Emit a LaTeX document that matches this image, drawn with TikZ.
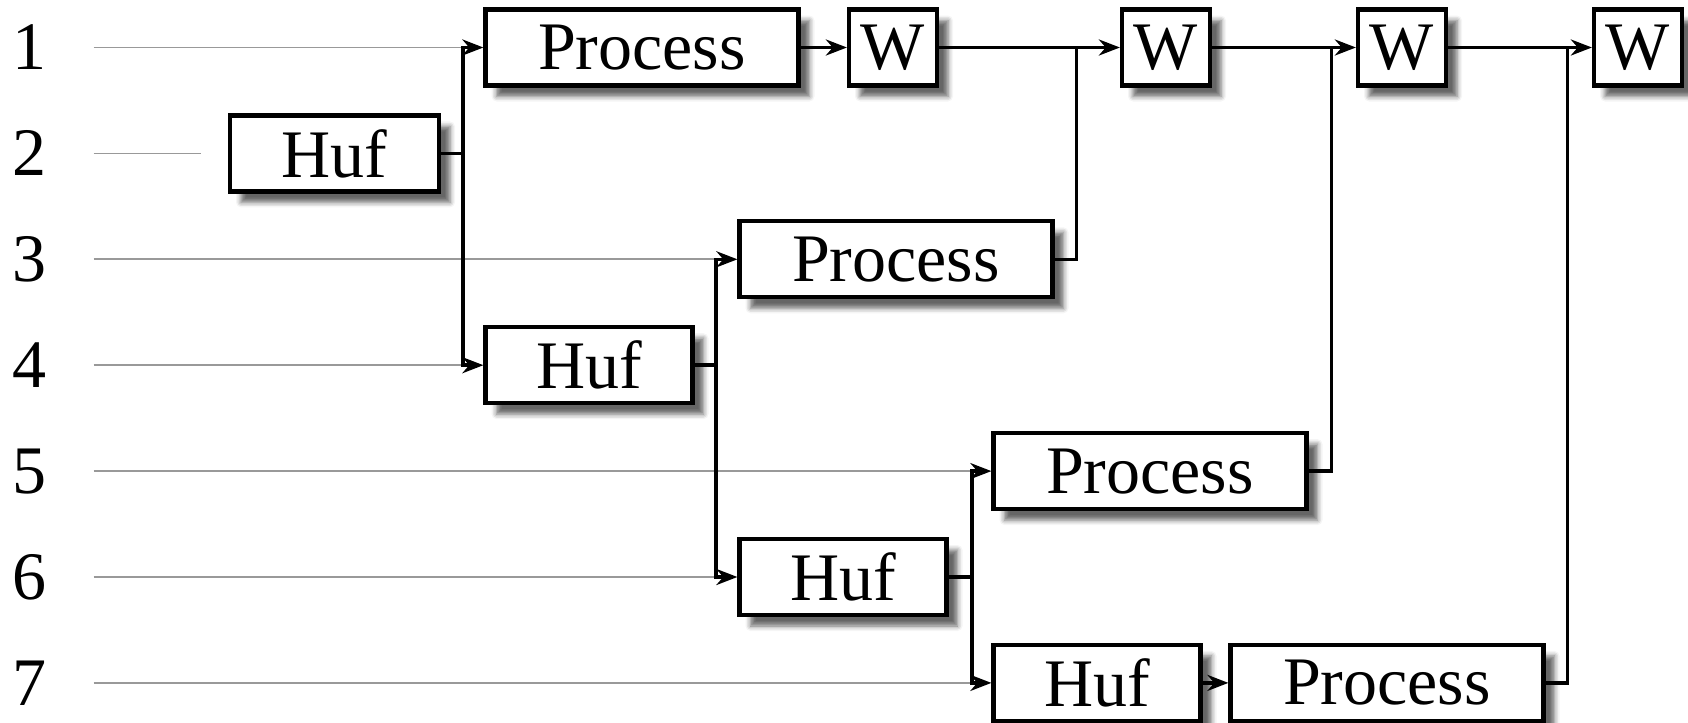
\documentclass[tikz,border=0pt]{standalone}
\usepackage{fontspec}
\setmainfont{Liberation Serif}
\usetikzlibrary{arrows.meta,shadows.blur}
\begin{document}
\begin{tikzpicture}[x=0.5pt,y=-0.5pt,
  box/.style={draw=black,line width=2.1pt,fill=white,minimum height=38pt,inner sep=0pt,
    font=\fontsize{34}{40}\selectfont,
    blur shadow={shadow xshift=5.5pt,shadow yshift=-5.5pt,shadow blur radius=2.5pt,shadow opacity=60}},
  conn/.style={line width=1.8pt},
  arr/.style={conn,-{Stealth[length=10.5pt,width=8pt]}},
  feed/.style={draw=gray!80,line width=0.9pt},
  lbl/.style={font=\fontsize{34}{40}\selectfont}]
\useasboundingbox (0,0) rectangle (1688,723);

% bus coordinates
\coordinate (bus1) at (463,0);
\coordinate (bus2) at (716,0);
\coordinate (bus3) at (972,0);
\coordinate (j1) at (1076.5,0);
\coordinate (j2) at (1331.6,0);
\coordinate (j3) at (1567.4,0);

% row labels
\node[lbl] (n1) at (29,47.5) {1};
\node[lbl] (n2) at (29,153.4) {2};
\node[lbl] (n3) at (29,259.3) {3};
\node[lbl] (n4) at (29,365.2) {4};
\node[lbl] (n5) at (29,471.1) {5};
\node[lbl] (n6) at (29,577) {6};
\node[lbl] (n7) at (29,682.9) {7};

% feed line starts
\coordinate (s1) at (93.7,47.5);
\coordinate (s2) at (93.7,153.4);
\coordinate (e2) at (201,153.4);
\coordinate (s3) at (93.7,259.3);
\coordinate (s4) at (93.7,365.2);
\coordinate (s5) at (93.7,471.1);
\coordinate (s6) at (93.7,577);
\coordinate (s7) at (93.7,682.9);

\draw[feed] (s1) -- (s1 -| bus1);
\draw[feed] (s2) -- (e2);
\draw[feed] (s3) -- (s3 -| bus2);
\draw[feed] (s4) -- (s4 -| bus1);
\draw[feed] (s5) -- (s5 -| bus3);
\draw[feed] (s6) -- (s6 -| bus2);
\draw[feed] (s7) -- (s7 -| bus3);

% boxes
\node[box,minimum width=104.5pt] (h2) at (334.5,153.4) {Huf};
\node[box,minimum width=156.5pt] (p1) at (642,47.5) {Process};
\node[box,minimum width=44pt] (w1) at (893,47.5) {W};
\node[box,minimum width=44pt] (w2) at (1166,47.5) {W};
\node[box,minimum width=44pt] (w3) at (1402,47.5) {W};
\node[box,minimum width=44pt] (w4) at (1638,47.5) {W};
\node[box,minimum width=156.5pt] (p3) at (896,259.3) {Process};
\node[box,minimum width=103.5pt] (h4) at (589,365.2) {Huf};
\node[box,minimum width=156.5pt] (p5) at (1150,471.1) {Process};
\node[box,minimum width=103.5pt] (h6) at (843,577) {Huf};
\node[box,minimum width=103.5pt] (h7) at (1097,682.9) {Huf};
\node[box,minimum width=156.5pt] (p7) at (1387,682.9) {Process};

% splits
\draw[arr] (h2.east) -- (h2.east -| bus1) |- (p1.west);
\draw[arr] (h2.east) -- (h2.east -| bus1) |- (h4.west);
\draw[arr] (h4.east) -- (h4.east -| bus2) |- (p3.west);
\draw[arr] (h4.east) -- (h4.east -| bus2) |- (h6.west);
\draw[arr] (h6.east) -- (h6.east -| bus3) |- (p5.west);
\draw[arr] (h6.east) -- (h6.east -| bus3) |- (h7.west);

% chain
\draw[arr] (p1) -- (w1);
\draw[arr] (w1) -- (w2);
\draw[arr] (w2) -- (w3);
\draw[arr] (w3) -- (w4);
\draw[arr] (h7) -- (p7);

% joins
\draw[conn] (p3.east) -- (p3.east -| j1) -- (j1 |- w1.east);
\draw[conn] (p5.east) -- (p5.east -| j2) -- (j2 |- w2.east);
\draw[conn] (p7.east) -- (p7.east -| j3) -- (j3 |- w3.east);
\end{tikzpicture}
\end{document}
